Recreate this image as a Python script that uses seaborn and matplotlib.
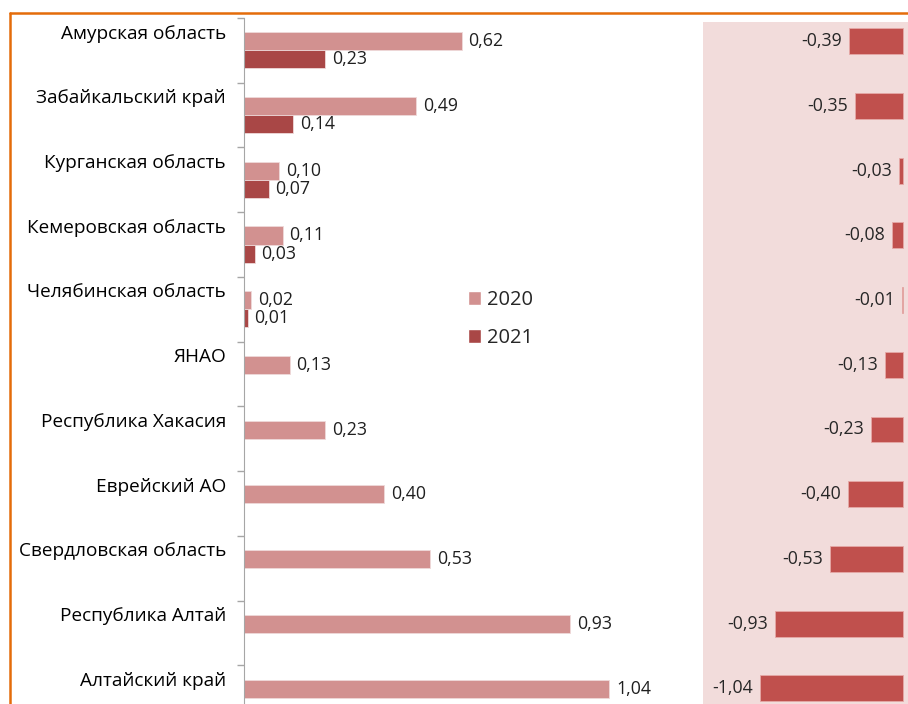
import numpy as np
import pandas as pd
import matplotlib
matplotlib.use('Agg')
import matplotlib.pyplot as plt
import matplotlib.transforms as mtransforms
from matplotlib.lines import Line2D
from matplotlib.patches import Patch
import seaborn as sns

sns.set_style('white')
plt.rcParams['font.family'] = ['Open Sans', 'DejaVu Sans']

# --- Data ---
regions = ['Амурская область', 'Забайкальский край', 'Курганская область',
           'Кемеровская область', 'Челябинская область', 'ЯНАО',
           'Республика Хакасия', 'Еврейский АО', 'Свердловская область',
           'Республика Алтай', 'Алтайский край']
years = ['2020', '2021']
values_2020 = [0.62, 0.49, 0.10, 0.11, 0.02, 0.13, 0.23, 0.40, 0.53, 0.93, 1.04]
values_2021 = [0.23, 0.14, 0.07, 0.03, 0.01, np.nan, np.nan, np.nan, np.nan, np.nan, np.nan]
change = [-0.39, -0.35, -0.03, -0.08, -0.01, -0.13, -0.23, -0.40, -0.53, -0.93, -1.04]

c2020 = '#D29190'
c2021 = '#A94746'
cdiff = '#C0504D'
orange = '#E46C0A'

df = pd.DataFrame({
    'region': regions * 2,
    'year': ['2020'] * len(regions) + ['2021'] * len(regions),
    'value': values_2020 + values_2021,
})

W, H = 908, 704
fig = plt.figure(figsize=(W / 100, H / 100), dpi=100)

def px(x0, y0, x1, y1):
    # pixel box (top-left origin) -> figure fraction rect
    return [x0 / W, 1 - y1 / H, (x1 - x0) / W, (y1 - y0) / H]

# --- Left panel: values by year ---
ax = fig.add_axes(px(244, 18, 700, 730))
sns.barplot(data=df, x='value', y='region', hue='year', order=regions,
            hue_order=years, palette=[c2020, c2021], width=0.56, saturation=1,
            orient='h', ax=ax, legend=False, edgecolor='#EFD9D9', linewidth=0.6)
ax.set_xlim(0, 456 / 351)
ax.set_ylim(10.5, -0.5)
ax.set_xlabel('')
ax.set_ylabel('')
ax.set_xticks([])
ax.set_yticks(np.arange(-0.5, 11, 1))
ax.set_yticklabels([])
ax.tick_params(axis='y', direction='out', length=5, color='#A6A6A6', width=1, left=True)
for s in ['top', 'right', 'bottom']:
    ax.spines[s].set_visible(False)
ax.spines['left'].set_color('#A6A6A6')

for cont in ax.containers:
    labels = []
    for b in cont:
        w = b.get_width()
        labels.append('' if np.isnan(w) else f'{w:.2f}'.replace('.', ','))
    ax.bar_label(cont, labels=labels, padding=5, fontsize=12.8, color='#1F1F1F')

trans = mtransforms.blended_transform_factory(ax.transAxes, ax.transData)
for i, name in enumerate(regions):
    ax.text(-18 / 456, i - 0.26, name, transform=trans, ha='right', va='center',
            fontsize=13.7, color='black')

ax.legend(handles=[Patch(facecolor=c2020), Patch(facecolor=c2021)], labels=years,
          loc='upper left', bbox_to_anchor=(468 / W, 1 - 290 / H),
          bbox_transform=fig.transFigure, frameon=False, fontsize=14.5,
          borderpad=0, borderaxespad=0,
          handlelength=0.65, handleheight=0.65, handletextpad=0.3, labelspacing=0.9)

# --- Right panel: change ---
ax2 = fig.add_axes(px(703, 22, 908, 704))
ax2.set_facecolor('#F2DCDB')
sns.barplot(x=change, y=regions, color=cdiff, width=0.4, orient='h', ax=ax2,
            saturation=1, edgecolor='#E6A9A7', linewidth=0.6)
ax2.set_xlim(-200 / 137.5, 5 / 137.5)
ax2.set_ylim(10.243, -0.298)
ax2.set_xticks([])
ax2.set_yticks([])
ax2.set_xlabel('')
ax2.set_ylabel('')
for s in ax2.spines.values():
    s.set_visible(False)
for cont in ax2.containers:
    labels = [f'{b.get_width():.2f}'.replace('.', ',') for b in cont]
    ax2.bar_label(cont, labels=labels, padding=5, fontsize=12.8, color='#262626')

# --- Orange frame ---
fig.add_artist(Line2D([10 / W, 1], [1 - 13 / H, 1 - 13 / H], color=orange, lw=1.8,
                      transform=fig.transFigure))
fig.add_artist(Line2D([10 / W, 10 / W], [0, 1 - 13 / H], color=orange, lw=1.8,
                      transform=fig.transFigure))

fig.savefig('out.png', dpi=100)
